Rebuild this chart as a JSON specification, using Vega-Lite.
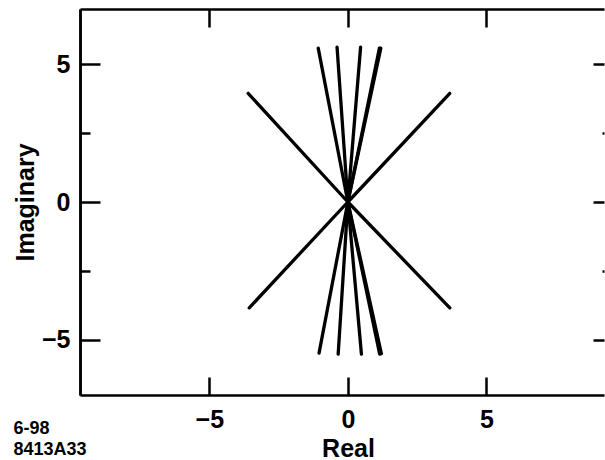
{
  "$schema": "https://vega.github.io/schema/vega-lite/v6.json",
  "autosize": {"type": "none"},
  "width": 524,
  "height": 386,
  "padding": {"left": 80, "top": 9, "right": 1, "bottom": 65},
  "background": "white",
  "config": {
    "view": {"stroke": null},
    "font": "Liberation Sans",
    "axis": {
      "domain": true,
      "domainColor": "black",
      "domainWidth": 2.5,
      "grid": false,
      "tickColor": "black",
      "tickWidth": 2.5,
      "labelFont": "Liberation Sans",
      "labelFontSize": 25,
      "labelFontWeight": "bold",
      "labelColor": "black",
      "titleFont": "Liberation Sans",
      "titleFontSize": 25,
      "titleFontWeight": "bold",
      "titleColor": "black"
    }
  },
  "title": {
    "text": ["6-98", "8413A33"],
    "orient": "bottom",
    "anchor": "start",
    "frame": "bounds",
    "font": "Liberation Sans",
    "fontSize": 18,
    "fontWeight": "bold",
    "color": "black",
    "lineHeight": 21,
    "offset": -41
  },
  "data": {
    "values": [
      {"ray": "r1", "o": 0, "x": 0, "y": 0}, {"ray": "r1", "o": 1, "x": -3.6, "y": 3.94},
      {"ray": "r2", "o": 0, "x": 0, "y": 0}, {"ray": "r2", "o": 1, "x": 3.68, "y": 3.94},
      {"ray": "r3", "o": 0, "x": 0, "y": 0}, {"ray": "r3", "o": 1, "x": -3.56, "y": -3.84},
      {"ray": "r4", "o": 0, "x": 0, "y": 0}, {"ray": "r4", "o": 1, "x": 3.68, "y": -3.84},
      {"ray": "r5", "o": 0, "x": 0, "y": 0}, {"ray": "r5", "o": 1, "x": -1.07, "y": 5.58},
      {"ray": "r6", "o": 0, "x": 0, "y": 0}, {"ray": "r6", "o": 1, "x": -0.39, "y": 5.62},
      {"ray": "r7", "o": 0, "x": 0, "y": 0}, {"ray": "r7", "o": 1, "x": 0.46, "y": 5.62},
      {"ray": "r8", "o": 0, "x": 0, "y": 0}, {"ray": "r8", "o": 1, "x": 1.14, "y": 5.58},
      {"ray": "r13", "o": 0, "x": 0, "y": 0}, {"ray": "r13", "o": 1, "x": 1.19, "y": 5.58},
      {"ray": "r9", "o": 0, "x": 0, "y": 0}, {"ray": "r9", "o": 1, "x": -1.04, "y": -5.48},
      {"ray": "r10", "o": 0, "x": 0, "y": 0}, {"ray": "r10", "o": 1, "x": -0.35, "y": -5.52},
      {"ray": "r11", "o": 0, "x": 0, "y": 0}, {"ray": "r11", "o": 1, "x": 0.49, "y": -5.52},
      {"ray": "r12", "o": 0, "x": 0, "y": 0}, {"ray": "r12", "o": 1, "x": 1.15, "y": -5.52},
      {"ray": "r14", "o": 0, "x": 0, "y": 0}, {"ray": "r14", "o": 1, "x": 1.21, "y": -5.5}
    ]
  },
  "layer": [
    {
      "mark": {"type": "line", "stroke": "black", "strokeWidth": 3.3, "strokeCap": "round"},
      "encoding": {
        "x": {
          "field": "x", "type": "quantitative",
          "scale": {"domain": [-9.67, 9.247], "nice": false, "zero": false},
          "axis": {"orient": "bottom", "values": [-5, 0, 5], "tickSize": -18, "labelPadding": 30, "title": "Real", "titlePadding": 4, "titleX": 268}
        },
        "y": {
          "field": "y", "type": "quantitative",
          "scale": {"domain": [-7, 7], "nice": false, "zero": false},
          "axis": {"orient": "left", "values": [-5, 0, 5], "tickSize": -20, "labelPadding": 30, "title": "Imaginary", "titlePadding": 3}
        },
        "detail": {"field": "ray"},
        "order": {"field": "o"}
      }
    },
    {
      "mark": {"type": "line", "strokeOpacity": 0},
      "encoding": {
        "x": {"field": "x", "type": "quantitative", "axis": {"orient": "top", "values": [-5, 0, 5], "tickSize": -18, "labels": false, "title": null}},
        "y": {"field": "y", "type": "quantitative", "axis": {"orient": "right", "values": [-5, 0, 5], "tickSize": -11, "domain": false, "labels": false, "title": null}},
        "detail": {"field": "ray"}
      }
    },
    {
      "mark": {"type": "line", "strokeOpacity": 0},
      "encoding": {
        "x": {"field": "x", "type": "quantitative", "axis": null},
        "y": {"field": "y", "type": "quantitative", "axis": {"orient": "left", "values": [-2.5, 2.5], "tickSize": -10, "labels": false, "title": null}},
        "detail": {"field": "ray"}
      }
    },
    {
      "mark": {"type": "line", "strokeOpacity": 0},
      "encoding": {
        "x": {"field": "x", "type": "quantitative", "axis": null},
        "y": {"field": "y", "type": "quantitative", "axis": {"orient": "right", "values": [-2.5, 2.5], "tickSize": -2, "domain": false, "labels": false, "title": null}},
        "detail": {"field": "ray"}
      }
    }
  ],
  "resolve": {"axis": {"x": "independent", "y": "independent"}}
}
